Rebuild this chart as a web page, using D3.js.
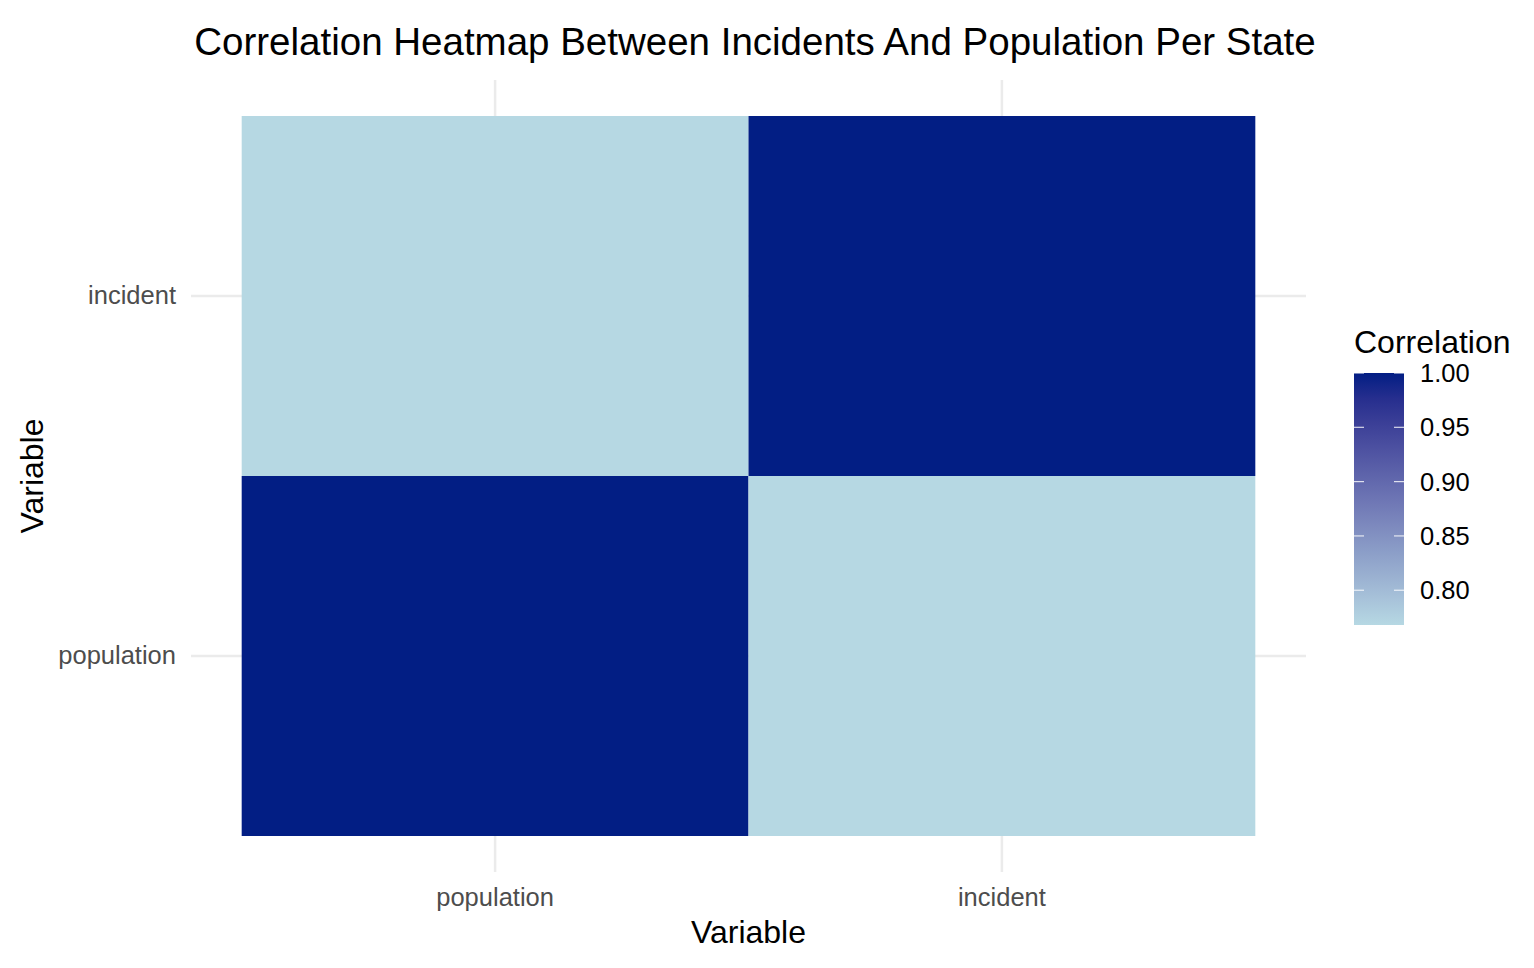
<!DOCTYPE html>
<html>
<head>
<meta charset="utf-8">
<script src="https://cdn.jsdelivr.net/npm/d3@7"></script>
<style>
  body { margin: 0; background: #fff; }
  text { font-family: "Liberation Sans", Arial, sans-serif; }
</style>
</head>
<body>
<div id="chart"></div>
<script>
// data
const variables = ["population", "incident"]
const rowVar = ["population", "population", "incident", "incident"]
const colVar = ["population", "incident", "population", "incident"]
const corrValues = [1.0, 0.768, 0.768, 1.0]
const legendTicks = [0.80, 0.85, 0.90, 0.95, 1.00]

const cells = corrValues.map((v, i) => ({ x: colVar[i], y: rowVar[i], value: v }))

const width = 1534
const height = 968

// panel area (ggplot discrete expansion 0.6)
const panel = { left: 191, right: 1306, top: 80, bottom: 872 }

const svg = d3.select('#chart')
    .append('svg')
    .attr('width', width)
    .attr('height', height)

const scaleX = d3.scaleBand()
    .domain(variables)
    .range([panel.left, panel.right])
    .paddingOuter(0.1)
    .paddingInner(0)

const scaleY = d3.scaleBand()
    .domain(variables)
    .range([panel.bottom, panel.top])
    .paddingOuter(0.1)
    .paddingInner(0)

const lowColor = '#b6d8e3'
const highColor = '#021e84'
const valMin = d3.min(corrValues)
const valMax = d3.max(corrValues)
const color = d3.scaleLinear()
    .domain([valMin, valMax])
    .range([lowColor, highColor])
    .interpolate(d3.interpolateLab)

// grid lines
const grid = svg.append('g')
grid.selectAll('.vgrid')
    .data(variables)
    .enter()
    .append('line')
    .attr('x1', d => scaleX(d) + scaleX.bandwidth() / 2)
    .attr('x2', d => scaleX(d) + scaleX.bandwidth() / 2)
    .attr('y1', panel.top)
    .attr('y2', panel.bottom)
    .style('stroke', '#ebebeb')
    .style('stroke-width', 2.5)
grid.selectAll('.hgrid')
    .data(variables)
    .enter()
    .append('line')
    .attr('y1', d => scaleY(d) + scaleY.bandwidth() / 2)
    .attr('y2', d => scaleY(d) + scaleY.bandwidth() / 2)
    .attr('x1', panel.left)
    .attr('x2', panel.right)
    .style('stroke', '#ebebeb')
    .style('stroke-width', 2.5)

// tiles
svg.append('g')
    .selectAll('rect')
    .data(cells)
    .enter()
    .append('rect')
    .attr('x', d => scaleX(d.x))
    .attr('y', d => scaleY(d.y))
    .attr('width', scaleX.bandwidth())
    .attr('height', scaleY.bandwidth())
    .style('fill', d => color(d.value))

// axes
const axisX = d3.axisBottom(scaleX).tickSize(0).tickPadding(16)
const axisY = d3.axisLeft(scaleY).tickSize(0).tickPadding(15)

const gx = svg.append('g')
    .attr('transform', `translate(0,${panel.bottom})`)
    .call(axisX)
gx.select('.domain').remove()
gx.selectAll('text')
    .style('font-size', '25.5px')
    .style('fill', '#4d4d4d')
    .style('font-family', '"Liberation Sans", Arial, sans-serif')

const gy = svg.append('g')
    .attr('transform', `translate(${panel.left},0)`)
    .call(axisY)
gy.select('.domain').remove()
gy.selectAll('text')
    .style('font-size', '25.5px')
    .style('fill', '#4d4d4d')
    .style('font-family', '"Liberation Sans", Arial, sans-serif')

// titles
svg.append('text')
    .attr('x', 755)
    .attr('y', 55)
    .attr('text-anchor', 'middle')
    .style('font-size', '38.5px')
    .style('fill', '#000')
    .text('Correlation Heatmap Between Incidents And Population Per State')

svg.append('text')
    .attr('x', (panel.left + panel.right) / 2)
    .attr('y', 943)
    .attr('text-anchor', 'middle')
    .style('font-size', '32px')
    .style('fill', '#000')
    .text('Variable')

svg.append('text')
    .attr('transform', `translate(43,${(panel.top + panel.bottom) / 2}) rotate(-90)`)
    .attr('text-anchor', 'middle')
    .style('font-size', '32px')
    .style('fill', '#000')
    .text('Variable')

// legend
const leg = { x: 1354, y: 373, w: 50, h: 252 }
const legScale = d3.scaleLinear()
    .domain([valMin, valMax])
    .range([leg.y + leg.h, leg.y])

const defs = svg.append('defs')
const grad = defs.append('linearGradient')
    .attr('id', 'corrGrad')
    .attr('x1', 0).attr('y1', 1).attr('x2', 0).attr('y2', 0)
d3.range(0, 1.0001, 0.1).forEach(t => {
    grad.append('stop')
        .attr('offset', t)
        .attr('stop-color', color(valMin + t * (valMax - valMin)))
})

svg.append('rect')
    .attr('x', leg.x)
    .attr('y', leg.y)
    .attr('width', leg.w)
    .attr('height', leg.h)
    .style('fill', 'url(#corrGrad)')

const legTickG = svg.append('g')
legTickG.selectAll('.lt1')
    .data(legendTicks)
    .enter()
    .append('line')
    .attr('x1', leg.x).attr('x2', leg.x + 10)
    .attr('y1', d => legScale(d)).attr('y2', d => legScale(d))
    .style('stroke', '#fff').style('stroke-width', 1.2).style('opacity', 0.8)
legTickG.selectAll('.lt2')
    .data(legendTicks)
    .enter()
    .append('line')
    .attr('x1', leg.x + leg.w - 10).attr('x2', leg.x + leg.w)
    .attr('y1', d => legScale(d)).attr('y2', d => legScale(d))
    .style('stroke', '#fff').style('stroke-width', 1.2).style('opacity', 0.8)

legTickG.selectAll('text')
    .data(legendTicks)
    .enter()
    .append('text')
    .attr('x', leg.x + leg.w + 16)
    .attr('y', d => legScale(d))
    .attr('dy', '0.35em')
    .style('font-size', '25.5px')
    .style('fill', '#000')
    .text(d => d3.format('.2f')(d))

svg.append('text')
    .attr('x', leg.x)
    .attr('y', 353)
    .style('font-size', '32px')
    .style('fill', '#000')
    .text('Correlation')
</script>
</body>
</html>
